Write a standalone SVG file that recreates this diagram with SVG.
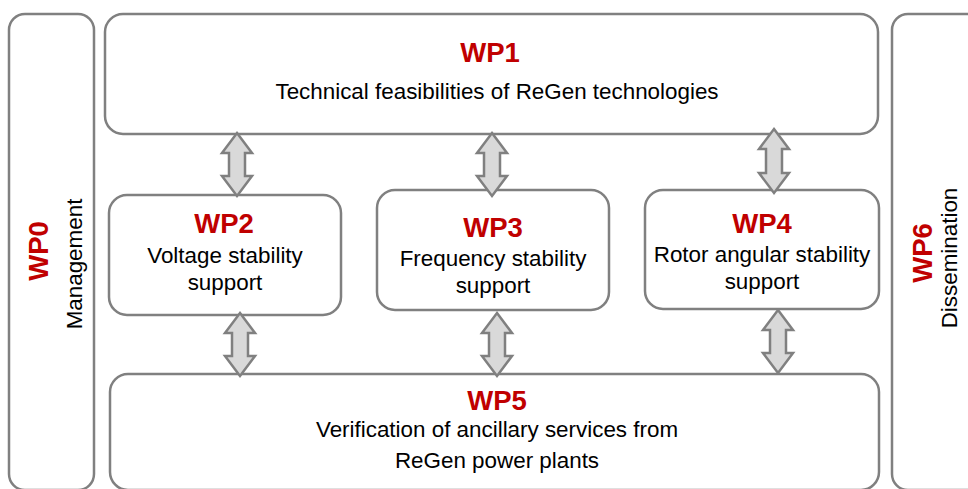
<svg xmlns="http://www.w3.org/2000/svg" width="968" height="489" viewBox="0 0 968 489">
<style>
.box{fill:#ffffff;stroke:#808080;stroke-width:2.5}
.arr{fill:#d9d9d9;stroke:#808080;stroke-width:2.5;stroke-linejoin:miter}
.t{font-family:"Liberation Sans",Arial,sans-serif;font-weight:bold;font-size:27.5px;fill:#c00000;text-anchor:middle}
.b{font-family:"Liberation Sans",Arial,sans-serif;font-size:22.4px;fill:#000000;text-anchor:middle}
</style>
<rect width="968" height="489" fill="#ffffff"/>
<g id="WP0">
<rect class="box" x="9" y="14" width="85" height="476" rx="16"/>
<text class="t" transform="translate(48,251) rotate(-90)">WP0</text>
<text class="b" transform="translate(82,264) rotate(-90)">Management</text>
</g>
<g id="WP6">
<rect class="box" x="892" y="14" width="100" height="476" rx="16"/>
<text class="t" transform="translate(932,253) rotate(-90)">WP6</text>
<text class="b" transform="translate(957,258) rotate(-90)">Dissemination</text>
</g>
<g id="WP1">
<rect class="box" x="105" y="14" width="773" height="120" rx="18"/>
<text class="t" x="490" y="62">WP1</text>
<text class="b" x="497" y="99">Technical feasibilities of ReGen technologies</text>
</g>
<g id="WP2">
<rect class="box" x="109" y="195" width="232" height="120" rx="18"/>
<text class="t" x="224" y="233">WP2</text>
<text class="b" x="225" y="263">Voltage stability</text>
<text class="b" x="225" y="290">support</text>
</g>
<g id="WP3">
<rect class="box" x="377" y="190" width="232" height="120" rx="18"/>
<text class="t" x="493" y="237">WP3</text>
<text class="b" x="493" y="266">Frequency stability</text>
<text class="b" x="493" y="293">support</text>
</g>
<g id="WP4">
<rect class="box" x="645" y="190" width="234" height="119" rx="18"/>
<text class="t" x="762" y="233">WP4</text>
<text class="b" x="762" y="262">Rotor angular stability</text>
<text class="b" x="762" y="289">support</text>
</g>
<g id="WP5">
<rect class="box" x="110" y="374" width="769" height="116" rx="18"/>
<text class="t" x="497" y="410">WP5</text>
<text class="b" x="497" y="437">Verification of ancillary services from</text>
<text class="b" x="497" y="468">ReGen power plants</text>
</g>
<g id="connectors">
<path class="arr" d="M237,133 L252,153 L245,153 L245,176 L252,176 L237,196 L222,176 L229,176 L229,153 L222,153 Z"/>
<path class="arr" d="M492,133 L507,153 L500,153 L500,176 L507,176 L492,196 L477,176 L484,176 L484,153 L477,153 Z"/>
<path class="arr" d="M774,129 L789,149 L782,149 L782,173 L789,173 L774,193 L759,173 L766,173 L766,149 L759,149 Z"/>
<path class="arr" d="M240,313 L255,333 L248,333 L248,356 L255,356 L240,376 L225,356 L232,356 L232,333 L225,333 Z"/>
<path class="arr" d="M497,313 L512,333 L505,333 L505,356 L512,356 L497,376 L482,356 L489,356 L489,333 L482,333 Z"/>
<path class="arr" d="M778,310 L793,330 L786,330 L786,353 L793,353 L778,373 L763,353 L770,353 L770,330 L763,330 Z"/>
</g>
</svg>
